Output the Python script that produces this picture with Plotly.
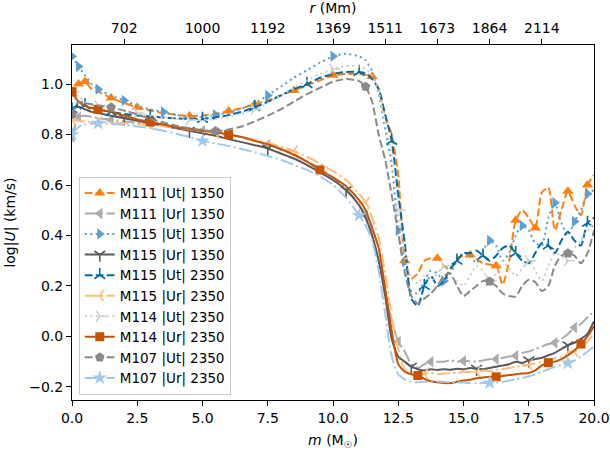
import plotly.graph_objects as go

# ---------------- data ----------------
m_grid = [0, 0.25, 0.5, 0.75, 1, 1.5, 2, 2.5, 3, 3.5, 4, 4.5, 5, 5.5, 6, 6.5, 7, 7.5, 8, 8.5,
          9, 9.5, 10, 10.5, 11, 11.25, 11.5, 11.75, 12, 12.25, 12.5, 12.75, 13, 13.25, 13.5,
          13.75, 14, 14.25, 14.5, 14.75, 15, 15.25, 15.5, 15.75, 16, 16.25, 16.5, 16.75, 17,
          17.25, 17.5, 17.75, 18, 18.25, 18.5, 18.75, 19, 19.25, 19.5, 19.75, 20]

M111_Ut_1350 = [0.96, 1.00, 1.01, 0.98, 0.97, 0.945, 0.925, 0.908, 0.895, 0.885, 0.878, 0.874, 0.876,
                0.883, 0.893, 0.905, 0.92, 0.935, 0.955, 0.975, 0.995, 1.015, 1.035, 1.04, 1.04,
                1.037, 1.03, 0.98, 0.87, 0.80, 0.64, 0.30, 0.23, 0.25, 0.30, 0.31, 0.31, 0.28,
                0.265, 0.31, 0.32, 0.323, 0.305, 0.29, 0.285, 0.28, 0.205, 0.30, 0.46, 0.50, 0.47,
                0.43, 0.57, 0.59, 0.42, 0.50, 0.575, 0.52, 0.48, 0.60, 0.64]
M111_Ur_1350 = [0.79, 0.87, 0.875, 0.87, 0.865, 0.858, 0.852, 0.847, 0.843, 0.838, 0.832, 0.825,
                0.815, 0.81, 0.80, 0.79, 0.775, 0.76, 0.74, 0.72, 0.695, 0.665, 0.63, 0.585, 0.52,
                0.48, 0.40, 0.30, 0.18, 0.06, -0.02, -0.06, -0.11, -0.125, -0.11, -0.10, -0.10,
                -0.10, -0.095, -0.10, -0.097, -0.098, -0.10, -0.095, -0.09, -0.09, -0.085, -0.08,
                -0.077, -0.065, -0.06, -0.05, -0.04, -0.03, -0.025, -0.01, 0.01, 0.035, 0.05,
                0.075, 0.10]
M115_Ut_1350 = [1.11, 1.07, 1.035, 1.0, 0.98, 0.955, 0.935, 0.915, 0.90, 0.89, 0.878, 0.868, 0.87,
                0.878, 0.888, 0.903, 0.925, 0.955, 0.99, 1.025, 1.055, 1.085, 1.11, 1.12, 1.11,
                1.095, 1.05, 0.96, 0.82, 0.68, 0.42, 0.28, 0.18, 0.17, 0.22, 0.26, 0.25, 0.22,
                0.25, 0.30, 0.33, 0.32, 0.29, 0.34, 0.38, 0.36, 0.30, 0.33, 0.40, 0.44, 0.42,
                0.37, 0.36, 0.47, 0.53, 0.45, 0.40, 0.455, 0.50, 0.565, 0.58]
M115_Ur_1350 = [0.90, 0.91, 0.90, 0.89, 0.885, 0.875, 0.865, 0.855, 0.845, 0.835, 0.825, 0.815,
                0.805, 0.795, 0.782, 0.77, 0.758, 0.745, 0.725, 0.705, 0.68, 0.65, 0.62, 0.58,
                0.52, 0.47, 0.40, 0.30, 0.16, -0.01, -0.08, -0.10, -0.12, -0.13, -0.135, -0.13,
                -0.133, -0.13, -0.132, -0.128, -0.13, -0.125, -0.128, -0.13, -0.125, -0.12,
                -0.115, -0.11, -0.10, -0.105, -0.095, -0.09, -0.085, -0.075, -0.065, -0.05,
                -0.035, -0.025, -0.01, 0.01, 0.06]
M115_Ut_2350 = [0.90, 0.92, 0.915, 0.905, 0.90, 0.89, 0.882, 0.876, 0.872, 0.868, 0.864, 0.861,
                0.862, 0.868, 0.877, 0.89, 0.908, 0.93, 0.955, 0.98, 1.0, 1.025, 1.04, 1.048,
                1.048, 1.043, 1.02, 0.98, 0.88, 0.775, 0.56, 0.37, 0.15, 0.12, 0.20, 0.24, 0.20,
                0.22, 0.27, 0.30, 0.33, 0.33, 0.34, 0.32, 0.30, 0.32, 0.35, 0.36, 0.33, 0.30,
                0.29, 0.33, 0.37, 0.36, 0.33, 0.38, 0.415, 0.38, 0.36, 0.45, 0.47]
M115_Ur_2350 = [0.86, 0.855, 0.852, 0.85, 0.85, 0.848, 0.845, 0.842, 0.838, 0.833, 0.828, 0.82,
                0.812, 0.805, 0.798, 0.79, 0.78, 0.768, 0.752, 0.735, 0.712, 0.685, 0.655, 0.62,
                0.565, 0.53, 0.47, 0.39, 0.25, 0.08, -0.05, -0.13, -0.15, -0.155, -0.148, -0.145,
                -0.15, -0.148, -0.145, -0.145, -0.14, -0.142, -0.14, -0.135, -0.138, -0.132,
                -0.13, -0.125, -0.12, -0.118, -0.112, -0.107, -0.10, -0.095, -0.085, -0.08,
                -0.07, -0.06, -0.045, -0.02, 0.01]
M114_Ut_2350 = [0.97, 0.95, 0.93, 0.92, 0.915, 0.905, 0.895, 0.885, 0.875, 0.868, 0.862, 0.858,
                0.858, 0.862, 0.87, 0.883, 0.90, 0.925, 0.955, 0.985, 1.015, 1.04, 1.06, 1.072,
                1.07, 1.06, 1.035, 0.97, 0.85, 0.72, 0.50, 0.33, 0.23, 0.21, 0.24, 0.22, 0.25,
                0.28, 0.24, 0.22, 0.20, 0.24, 0.28, 0.26, 0.22, 0.25, 0.30, 0.27, 0.24, 0.27,
                0.30, 0.26, 0.22, 0.28, 0.33, 0.32, 0.30, 0.35, 0.38, 0.42, 0.45]
M114_Ur_2350 = [0.97, 0.93, 0.915, 0.905, 0.90, 0.89, 0.875, 0.86, 0.85, 0.84, 0.83, 0.822, 0.815,
                0.809, 0.80, 0.79, 0.775, 0.762, 0.743, 0.72, 0.693, 0.66, 0.63, 0.595, 0.54,
                0.50, 0.43, 0.35, 0.19, 0.02, -0.11, -0.14, -0.15, -0.155, -0.168, -0.178,
                -0.182, -0.185, -0.185, -0.18, -0.175, -0.172, -0.166, -0.163, -0.16, -0.16,
                -0.157, -0.153, -0.15, -0.147, -0.145, -0.135, -0.115, -0.104, -0.10, -0.09,
                -0.075, -0.055, -0.03, 0.0, 0.04]
M107_Ut_2350 = [0.88, 0.93, 0.925, 0.92, 0.915, 0.908, 0.895, 0.88, 0.862, 0.848, 0.835, 0.825,
                0.818, 0.814, 0.82, 0.832, 0.852, 0.875, 0.90, 0.93, 0.96, 0.985, 1.01, 1.02,
                1.012, 0.99, 0.93, 0.80, 0.70, 0.56, 0.41, 0.25, 0.16, 0.13, 0.15, 0.17, 0.20,
                0.24, 0.25, 0.20, 0.16, 0.18, 0.20, 0.22, 0.218, 0.20, 0.17, 0.16, 0.158, 0.20,
                0.225, 0.215, 0.18, 0.20, 0.28, 0.32, 0.33, 0.32, 0.29, 0.33, 0.42]
M107_Ur_2350 = [0.80, 0.83, 0.84, 0.843, 0.845, 0.843, 0.838, 0.832, 0.825, 0.815, 0.803, 0.79,
                0.775, 0.765, 0.755, 0.743, 0.73, 0.715, 0.70, 0.68, 0.66, 0.635, 0.60, 0.55,
                0.48, 0.44, 0.38, 0.26, 0.09, -0.08, -0.15, -0.17, -0.18, -0.182, -0.18, -0.18,
                -0.178, -0.18, -0.182, -0.183, -0.183, -0.185, -0.186, -0.185, -0.184, -0.183,
                -0.18, -0.175, -0.17, -0.165, -0.158, -0.15, -0.14, -0.13, -0.12, -0.113,
                -0.105, -0.095, -0.08, -0.06, -0.04]

# m values (on m_grid) where each series shows a marker
marks_M111_Ut_1350 = [0, 0.25, 0.5, 1.5, 2.5, 4.5, 6, 7, 8.5, 10, 11.5, 12.75, 14, 15.25, 16.25, 17, 17.75, 19, 19.75]
marks_M111_Ur_1350 = [0, 0.25, 1.5, 3, 5, 7.5, 11.25, 12.5, 13.75, 15, 16.25, 17, 18.5, 19.25]
marks_M115_Ut_1350 = [0, 0.25, 1, 2, 3.5, 5.5, 7.5, 10, 12.5, 14.25, 16, 17.25, 18.5, 19.25, 19.75]
marks_M115_Ur_1350 = [0, 2, 4.5, 7.5, 10.5, 13, 15.5, 17.5, 19]
marks_M115_Ut_2350 = [0, 0.5, 1.5, 3, 5, 7, 9, 11, 12.25, 13.5, 14.75, 15.75, 17, 18.25, 19.75]
marks_M115_Ur_2350 = [0, 1, 3, 5.5, 8.5, 11.25, 13.5, 15.5, 17.5, 19.25]
marks_M114_Ut_2350 = [0, 1, 2.5, 4.5, 7, 10, 12.5, 14.25, 16, 17.5, 19]
marks_M114_Ur_2350 = [0, 1, 3, 6, 9.5, 13.25, 16.25, 18.25, 19.5]
marks_M107_Ut_2350 = [0, 1.5, 5.5, 11.25, 16, 19]
marks_M107_Ur_2350 = [0, 1, 5, 11, 16, 19]

series_names = ["M111 |Ut| 1350", "M111 |Ur| 1350", "M115 |Ut| 1350", "M115 |Ur| 1350",
                "M115 |Ut| 2350", "M115 |Ur| 2350", "M114 |Ut| 2350", "M114 |Ur| 2350",
                "M107 |Ut| 2350", "M107 |Ur| 2350"]
series_values = [M111_Ut_1350, M111_Ur_1350, M115_Ut_1350, M115_Ur_1350, M115_Ut_2350,
                 M115_Ur_2350, M114_Ut_2350, M114_Ur_2350, M107_Ut_2350, M107_Ur_2350]
series_marks = [marks_M111_Ut_1350, marks_M111_Ur_1350, marks_M115_Ut_1350, marks_M115_Ur_1350,
                marks_M115_Ut_2350, marks_M115_Ur_2350, marks_M114_Ut_2350, marks_M114_Ur_2350,
                marks_M107_Ut_2350, marks_M107_Ur_2350]

top_tick_m = [2, 5, 7.5, 10, 12, 14, 16, 18]
top_tick_labels = ["702", "1000", "1192", "1369", "1511", "1673", "1864", "2114"]

# ---------------- styles ----------------
DASH = "7.7px,3.3px"
DOT = "2.1px,3.4px"
DASHDOT = "13px,3.3px,2.1px,3.3px"
styles = [
    dict(color="#FF800E", dash=DASH, symbol="triangle-up", size=10),
    dict(color="#ABABAB", dash=DASHDOT, symbol="triangle-left", size=10),
    dict(color="#5F9ED1", dash=DOT, symbol="triangle-right", size=10),
    dict(color="#595959", dash="solid", symbol="y-down", size=9),
    dict(color="#006BA4", dash=DASH, symbol="y-up", size=9),
    dict(color="#FFBC79", dash=DASHDOT, symbol="y-left", size=9),
    dict(color="#CFCFCF", dash=DOT, symbol="y-right", size=9),
    dict(color="#C85200", dash="solid", symbol="square", size=9),
    dict(color="#898989", dash=DASH, symbol="pentagon", size=10),
    dict(color="#A2C8EC", dash=DASHDOT, symbol="star", size=11),
]

FONT = "DejaVu Sans"
fig = go.Figure()
n_series = len(series_names)
for k, (name, vals, marks, st) in enumerate(zip(series_names, series_values, series_marks, styles)):
    mark_idx = set(m_grid.index(v) for v in marks)
    cols = [st["color"] if i in mark_idx else "rgba(0,0,0,0)" for i in range(len(m_grid))]
    is_line_sym = st["symbol"].startswith("y-")
    fig.add_trace(go.Scatter(
        x=m_grid, y=vals, name=name, mode="lines+markers",
        # the last series is attached to the top (r) axis, which shares the same m range
        xaxis="x2" if k == n_series - 1 else "x",
        line=dict(color=st["color"], width=2, dash=st["dash"], shape="spline", smoothing=0.6),
        marker=dict(symbol=st["symbol"], size=st["size"], color=cols,
                    line=dict(color=cols, width=1.6 if is_line_sym else 0)),
        cliponaxis=True,
    ))

axis_common = dict(showline=True, linecolor="black", linewidth=1, ticks="outside",
                   ticklen=5, tickwidth=1, tickcolor="black", showgrid=False, zeroline=False,
                   automargin=False,
                   tickfont=dict(family=FONT, size=14, color="black"))

fig.update_layout(
    width=610, height=450, autosize=False,
    margin=dict(l=72, r=16, t=45, b=50),
    paper_bgcolor="white", plot_bgcolor="white",
    font=dict(family=FONT, size=14, color="black"),
    xaxis=dict(range=[0, 20], tickvals=[0, 2.5, 5, 7.5, 10, 12.5, 15, 17.5, 20], tickformat=".1f",
               title=dict(text="<i>m</i> (M<sub>☉</sub>)", standoff=10, font=dict(family=FONT, size=14)),
               mirror=False, **axis_common),
    xaxis2=dict(range=[0, 20], overlaying="x", side="top", anchor="y",
                tickvals=top_tick_m, ticktext=top_tick_labels,
                title=dict(text="<i>r</i> (Mm)", standoff=9, font=dict(family=FONT, size=14)),
                **axis_common),
    yaxis=dict(range=[-0.252, 1.155], tickvals=[-0.2, 0, 0.2, 0.4, 0.6, 0.8, 1.0], tickformat=".1f",
               title=dict(text="log|<i>U</i>| (km/s)", standoff=10, font=dict(family=FONT, size=14)),
               mirror=True, **axis_common),
    legend=dict(x=0.013, y=0.015, xanchor="left", yanchor="bottom",
                bgcolor="rgba(255,255,255,0.8)", bordercolor="#cccccc", borderwidth=1,
                font=dict(family=FONT, size=13.5, color="black"), tracegroupgap=0),
    showlegend=True,
)

# remove the default page margin so the 610x450 figure fills the window exactly
fig.write_html("out.html",
               config={"displayModeBar": False},
               post_script="document.body.style.margin='0';document.body.style.overflow='hidden';")
